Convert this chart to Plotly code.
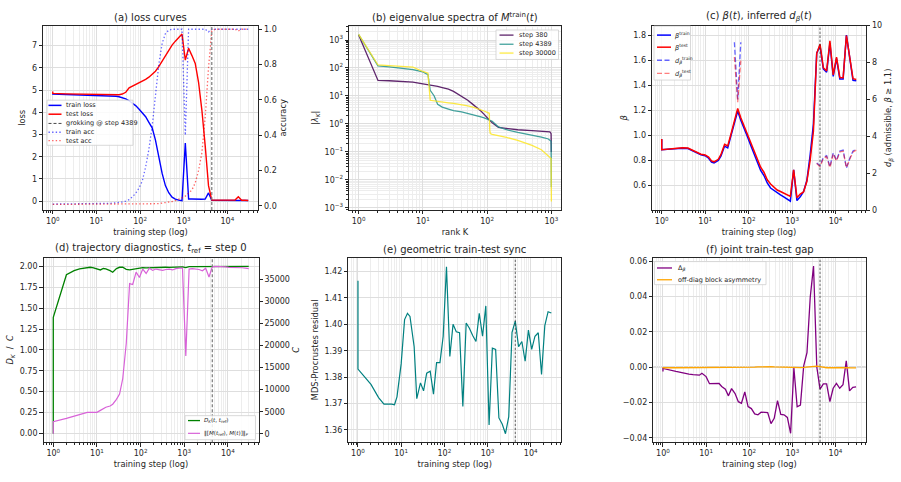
import plotly.graph_objects as go

# ---------------------------------------------------------------- data
# training steps (first entry is step 0, drawn at 1 on the log axis)
STEPS = [1, 1, 2, 3, 4, 5, 6, 7, 8, 10,
         12, 14, 16, 20, 23, 28, 33, 39, 47, 56,
         66, 79, 94, 112, 134, 159, 189, 225, 268, 320,
         380, 453, 540, 643, 766, 912, 1086, 1293, 1540, 1834,
         2185, 2602, 3099, 3691, 4389, 5235, 6235, 7426, 8844, 10533,
         12545, 14941, 17795, 21193, 25241, 30000]
GROK_STEP = 4389

TRAIN_LOSS = [4.83, 4.82, 4.80, 4.79, 4.79, 4.78, 4.78, 4.78, 4.77, 4.77,
              4.76, 4.76, 4.75, 4.74, 4.73, 4.72, 4.70, 4.66, 4.60, 4.52,
              4.42, 4.30, 4.15, 4.00, 3.80, 3.55, 3.30, 2.75, 2.00, 1.25,
              0.70, 0.38, 0.18, 0.09, 0.05, 0.02, 2.62, 0.10, 0.10, 0.09,
              0.09, 0.09, 0.10, 0.37, 0.04, 0.04, 0.04, 0.04, 0.03, 0.03,
              0.03, 0.03, 0.03, 0.03, 0.03, 0.03]
TEST_LOSS = [4.93, 4.85, 4.83, 4.82, 4.81, 4.81, 4.80, 4.80, 4.80, 4.80,
             4.79, 4.79, 4.79, 4.78, 4.78, 4.78, 4.79, 4.82, 4.90, 5.10,
             5.17, 5.22, 5.30, 5.38, 5.48, 5.58, 5.70, 5.85, 6.05, 6.30,
             6.55, 6.80, 7.02, 7.20, 7.35, 7.52, 6.35, 6.88, 6.55, 6.20,
             5.35, 4.10, 2.50, 0.70, 0.05, 0.05, 0.05, 0.05, 0.04, 0.05,
             0.04, 0.05, 0.20, 0.04, 0.04, 0.03]
TRAIN_ACC = [0.010, 0.010, 0.010, 0.010, 0.010, 0.010, 0.010, 0.010, 0.011, 0.011,
             0.012, 0.012, 0.013, 0.014, 0.015, 0.017, 0.019, 0.022, 0.027, 0.035,
             0.050, 0.070, 0.100, 0.140, 0.220, 0.320, 0.450, 0.620, 0.800, 0.920,
             0.975, 0.995, 1.000, 1.000, 1.000, 1.000, 0.400, 1.000, 1.000, 1.000,
             1.000, 1.000, 1.000, 0.985, 1.000, 1.000, 1.000, 1.000, 1.000, 1.000,
             1.000, 1.000, 1.000, 1.000, 1.000, 1.000]
TEST_ACC = [0.008, 0.008, 0.008, 0.008, 0.008, 0.008, 0.008, 0.008, 0.008, 0.008,
            0.008, 0.008, 0.008, 0.008, 0.008, 0.008, 0.008, 0.008, 0.008, 0.008,
            0.008, 0.008, 0.009, 0.009, 0.010, 0.010, 0.011, 0.012, 0.013, 0.015,
            0.017, 0.020, 0.024, 0.030, 0.036, 0.045, 0.055, 0.070, 0.090, 0.130,
            0.200, 0.300, 0.500, 0.780, 0.990, 1.000, 1.000, 1.000, 1.000, 1.000,
            1.000, 1.000, 0.990, 1.000, 1.000, 1.000]

# eigenvalue spectra
RANKS = [1, 2, 3, 5, 7, 10, 12, 13, 14, 15,
         17, 20, 25, 30, 40, 50, 60, 70, 80, 90,
         100, 105, 108, 110, 112, 120, 150, 200, 300, 500,
         700, 900, 950, 990, 1000]
SPECTRA_LABELS = ["step 380", "step 4389", "step 30000"]
EIG_STEP_380 = [1500, 36, 35, 33, 31, 27, 25.5, 25, 24, 23.5,
                22, 20, 17.5, 14.5, 10, 7, 5, 3.8, 2.9, 2.2,
                1.6, 1.45, 1.38, 1.33, 1.28, 1.1, 0.75, 0.68, 0.62, 0.58,
                0.56, 0.54, 0.52, 0.45, 0.1]
EIG_STEP_4389 = [1580, 120, 110, 96, 88, 72, 58, 16, 12, 10,
                 5.0, 4.0, 3.4, 3.0, 2.7, 2.4, 2.15, 1.95, 1.8, 1.65,
                 1.5, 1.45, 1.42, 1.4, 1.37, 1.25, 0.78, 0.62, 0.5, 0.4,
                 0.34, 0.29, 0.27, 0.24, 0.0055]
EIG_STEP_30000 = [1600, 128, 122, 116, 108, 75, 65, 7.0, 6.8, 6.6,
                  6.4, 6.1, 5.7, 5.4, 4.9, 4.4, 4.0, 3.6, 3.2, 2.9,
                  2.6, 2.5, 2.4, 0.6, 0.45, 0.42, 0.38, 0.33, 0.26, 0.17,
                  0.12, 0.075, 0.066, 0.058, 0.0017]

# beta(t) and inferred d_beta(t)
BETA_TRAIN = [0.970, 0.885, 0.893, 0.898, 0.895, 0.880, 0.866, 0.852, 0.846, 0.838,
              0.818, 0.787, 0.780, 0.800, 0.835, 0.915, 0.900, 0.995, 1.110, 1.195,
              1.120, 1.060, 0.990, 0.920, 0.850, 0.780, 0.720, 0.680, 0.620, 0.580,
              0.560, 0.545, 0.525, 0.510, 0.495, 0.475, 0.725, 0.480, 0.510, 0.550,
              0.640, 0.840, 1.090, 1.655, 1.715, 1.530, 1.505, 1.735, 1.470, 1.615,
              1.450, 1.450, 1.800, 1.600, 1.440, 1.435]
BETA_TEST = [0.972, 0.886, 0.896, 0.902, 0.899, 0.884, 0.871, 0.857, 0.850, 0.843,
             0.827, 0.796, 0.789, 0.809, 0.846, 0.928, 0.916, 1.007, 1.125, 1.215,
             1.141, 1.074, 1.012, 0.944, 0.877, 0.807, 0.746, 0.706, 0.646, 0.612,
             0.589, 0.564, 0.552, 0.537, 0.524, 0.513, 0.726, 0.503, 0.532, 0.549,
             0.632, 0.800, 1.033, 1.655, 1.728, 1.540, 1.515, 1.755, 1.482, 1.624,
             1.462, 1.460, 1.797, 1.614, 1.452, 1.446]
N = None
D_BETA_TRAIN = [N, N, N, N, N, N, N, N, N, N,
                N, N, N, N, N, N, N, N, 9.1, 6.0,
                9.1, N, N, N, N, N, N, N, N, N,
                N, N, N, N, N, N, N, N, N, N,
                N, N, N, 2.55, 2.40, 2.85, 2.95, 2.35, 3.10, 2.70,
                3.20, 3.25, 2.28, 2.80, 3.20, 3.30]
D_BETA_TEST = [N, N, N, N, N, N, N, N, N, N,
               N, N, N, N, N, N, N, N, 8.3, 5.85,
               8.1, N, N, N, N, N, N, N, N, N,
               N, N, N, N, N, N, N, N, N, N,
               N, N, N, 2.52, 2.35, 2.80, 2.90, 2.30, 3.05, 2.66,
               3.15, 3.20, 2.29, 2.75, 3.15, 3.25]

# trajectory diagnostics
D_K = [0.000, 1.390, 1.900, 1.950, 1.970, 1.980, 1.988, 1.990, 1.985, 1.965,
       1.958, 1.975, 1.970, 1.950, 1.930, 1.975, 1.990, 1.990, 1.965, 1.960,
       1.968, 1.975, 1.980, 1.985, 1.983, 1.985, 1.988, 1.990, 1.985, 1.988,
       1.990, 1.988, 1.990, 1.993, 1.990, 1.995, 1.985, 1.997, 1.998, 1.998,
       1.998, 1.999, 1.999, 1.999, 2.000, 2.000, 2.000, 2.000, 2.000, 2.000,
       2.000, 2.000, 2.000, 2.000, 2.000, 2.000]
COMMUTATOR = [0, 2750, 3500, 4000, 4400, 4750, 4830, 4840, 4840, 4850,
              5300, 5700, 6000, 6300, 6700, 7800, 9000, 12500, 20500, 34000,
              33800, 36600, 35400, 37300, 36300, 37500, 37000, 37300, 37100, 37000,
              37200, 37300, 37100, 37400, 37500, 37500, 17600, 37300, 37400, 37300,
              37200, 36900, 37500, 35500, 37800, 37900, 37900, 37800, 37800, 37700,
              37700, 37700, 37600, 37600, 37500, 37400]

# geometric train-test sync
MDS_RESIDUAL = [1.4165, 1.3830, 1.3772, 1.3722, 1.3697, 1.3698, 1.3697, 1.3695, 1.3725, 1.3850,
                1.4018, 1.4042, 1.4030, 1.3915, 1.3718, 1.3778, 1.3748, 1.3815, 1.3822, 1.3735,
                1.3855, 1.3855, 1.3955, 1.4218, 1.3878, 1.4000, 1.3972, 1.3968, 1.3688, 1.4005,
                1.3985, 1.3958, 1.3935, 1.4042, 1.3955, 1.4070, 1.3618, 1.3910, 1.3905, 1.3645,
                1.3622, 1.3585, 1.3650, 1.3970, 1.4012, 1.3915, 1.3935, 1.3860, 1.3978, 1.3905,
                1.3955, 1.3968, 1.3810, 1.3995, 1.4048, 1.4043]

# joint train-test gap
DELTA_BETA = [-0.0025, -0.0008, -0.0025, -0.0035, -0.0040, -0.0043, -0.0045, -0.0046, -0.0035, -0.0054,
              -0.0094, -0.0093, -0.0093, -0.0093, -0.0110, -0.0125, -0.0163, -0.0122, -0.0150, -0.0196,
              -0.0205, -0.0141, -0.0224, -0.0235, -0.0265, -0.0270, -0.0255, -0.0255, -0.0258, -0.0320,
              -0.0290, -0.0190, -0.0268, -0.0270, -0.0285, -0.0375, -0.0005, -0.0225, -0.0215, 0.0007,
              0.0081, 0.0396, 0.0572, 0.0000, -0.0125, -0.0095, -0.0095, -0.0195, -0.0120, -0.0092,
              -0.0120, -0.0100, 0.0035, -0.0135, -0.0115, -0.0112]
OFFDIAG_ASYM = [-0.0005, -0.0004, -0.0004, -0.0004, -0.0003, -0.0003, -0.0003, -0.0003, -0.0003, -0.0003,
                -0.0002, -0.0002, -0.0002, -0.0002, -0.0002, -0.0001, -0.0001, -0.0001, -0.0001, -0.0002,
                -0.0003, -0.0003, -0.0002, -0.0001, 0.0000, 0.0001, 0.0002, 0.0003, 0.0003, 0.0002,
                0.0001, 0.0000, -0.0001, -0.0002, -0.0003, -0.0004, -0.0004, -0.0004, -0.0003, -0.0002,
                0.0000, 0.0002, 0.0004, 0.0005, 0.0002, -0.0002, -0.0004, -0.0004, -0.0003, -0.0003,
                -0.0003, -0.0004, -0.0003, -0.0004, -0.0005, -0.0005]

# tick labels
TIME_TICKS = [1, 10, 100, 1000, 10000]
TIME_TICKTEXT = ["10<sup>0</sup>", "10<sup>1</sup>", "10<sup>2</sup>", "10<sup>3</sup>", "10<sup>4</sup>"]
RANK_TICKS = [1, 10, 100, 1000]
RANK_TICKTEXT = ["10<sup>0</sup>", "10<sup>1</sup>", "10<sup>2</sup>", "10<sup>3</sup>"]
EIG_TICKS = [1e-3, 1e-2, 1e-1, 1, 10, 100, 1000]
EIG_TICKTEXT = ["10<sup>\u22123</sup>", "10<sup>\u22122</sup>", "10<sup>\u22121</sup>",
                "10<sup>0</sup>", "10<sup>1</sup>", "10<sup>2</sup>", "10<sup>3</sup>"]

# ---------------------------------------------------------------- style / layout helpers
W, H = 901, 482
FONT = "DejaVu Sans"
INK = "#262626"
TICK_SIZE = 8
LABEL_SIZE = 8.3
TITLE_SIZE = 10
LEG_SIZE = 6.5


def fx(p):
    return p / W


def fy(p):
    return 1 - p / H


BOX = {  # left, right, top, bottom in pixels
    "a": (43, 258, 22, 210),
    "b": (349, 561, 22, 210),
    "c": (652, 866, 22, 210),
    "d": (43.5, 258.5, 258.5, 446.5),
    "e": (348.3, 561, 258.5, 446.5),
    "f": (653.3, 865.7, 258.5, 446.5),
}


def xdom(k):
    l, r, t, b = BOX[k]
    return [fx(l), fx(r)]


def ydom(k):
    l, r, t, b = BOX[k]
    return [fy(b), fy(t)]


MINOR_LOG = [m * 10.0 ** e for e in range(-4, 5) for m in range(2, 10)]


def title_of(text, standoff=None):
    d = dict(text=text, font=dict(family=FONT, size=LABEL_SIZE, color=INK))
    if standoff is not None:
        d["standoff"] = standoff
    return d


def base_axis(**kw):
    d = dict(showline=True, linecolor=INK, linewidth=0.8, mirror=True,
             ticks="outside", ticklen=3.5, tickwidth=0.8, tickcolor=INK,
             tickfont=dict(family=FONT, size=TICK_SIZE, color=INK),
             showgrid=True, gridcolor="#dedede", gridwidth=0.7, zeroline=False)
    d.update(kw)
    return d


def log_minor(grid=True):
    return dict(tickmode="array", tickvals=MINOR_LOG, ticks="outside", ticklen=2,
                tickwidth=0.6, tickcolor=INK, showgrid=grid, gridcolor="#ededed", gridwidth=0.6)


def time_xaxis(k, anchor):
    return base_axis(domain=xdom(k), anchor=anchor, type="log", range=[-0.224, 4.701],
                     tickmode="array", tickvals=TIME_TICKS, ticktext=TIME_TICKTEXT,
                     minor=log_minor(), title=title_of("training step (log)", 4))


def right_axis(k, over, anchor, rng, tickvals, fmt, label):
    return base_axis(domain=ydom(k), overlaying=over, anchor=anchor, side="right",
                     range=rng, tickmode="array", tickvals=tickvals, tickformat=fmt,
                     showgrid=False, mirror=False, title=title_of(label, 4))


# ---------------------------------------------------------------- traces
traces = []


def line(x, y, xa, ya, color, width=1.3, dash=None, opacity=1.0, name=None):
    ln = dict(color=color, width=width)
    if dash:
        ln["dash"] = dash
    traces.append(go.Scatter(x=x, y=y, xaxis=xa, yaxis=ya, mode="lines", line=ln,
                             opacity=opacity, name=name, showlegend=False,
                             connectgaps=False))


DOT = "1.4px,2.2px"
DASH_D = "5px,2.5px"

# (a)
line(STEPS, TRAIN_LOSS, "x", "y", "#0000ff", 1.4, name="train loss")
line(STEPS, TEST_LOSS, "x", "y", "#ff0000", 1.4, name="test loss")
line(STEPS, TRAIN_ACC, "x", "y7", "#0000ff", 1.3, DOT, 0.6, "train acc")
line(STEPS, TEST_ACC, "x", "y7", "#ff0000", 1.3, DOT, 0.6, "test acc")

# (b)
SPEC_COLORS = ["#440154", "#21918c", "#fde725"]
for vals, col, nm in zip([EIG_STEP_380, EIG_STEP_4389, EIG_STEP_30000], SPEC_COLORS, SPECTRA_LABELS):
    line(RANKS, vals, "x2", "y2", col, 1.3, None, 0.85, nm)

# (c)
line(STEPS, BETA_TRAIN, "x3", "y3", "#0000ff", 1.5, name="beta train")
line(STEPS, BETA_TEST, "x3", "y3", "#ff0000", 1.5, name="beta test")
line(STEPS, D_BETA_TRAIN, "x3", "y8", "#0000ff", 1.3, DASH_D, 0.6, "d train")
line(STEPS, D_BETA_TEST, "x3", "y8", "#ff0000", 1.3, DASH_D, 0.5, "d test")

# (d)
line(STEPS, D_K, "x4", "y4", "#008000", 1.3, name="D_K")
line(STEPS, COMMUTATOR, "x4", "y9", "#d862d8", 1.2, name="commutator")

# (e)
line(STEPS, MDS_RESIDUAL, "x5", "y5", "#008080", 1.2, name="residual")

# (f)
line(STEPS, DELTA_BETA, "x6", "y6", "#800080", 1.3, name="delta beta")
line(STEPS, OFFDIAG_ASYM, "x6", "y6", "#ffa500", 1.3, name="off-diag")

# ---------------------------------------------------------------- layout
layout = dict(
    width=W, height=H, margin=dict(l=0, r=0, t=0, b=0),
    paper_bgcolor="white", plot_bgcolor="white", showlegend=False,
    font=dict(family=FONT, color=INK),
    # (a)
    xaxis=time_xaxis("a", "y"),
    yaxis=base_axis(domain=ydom("a"), anchor="x", range=[-0.40, 7.90], tickmode="array",
                    tickvals=[0, 1, 2, 3, 4, 5, 6, 7], title=title_of("loss", 4)),
    yaxis7=right_axis("a", "y", "x", [-0.024, 1.0206], [0, 0.2, 0.4, 0.6, 0.8, 1.0], ".1f", "accuracy"),
    # (b)
    xaxis2=base_axis(domain=xdom("b"), anchor="y2", type="log", range=[-0.15, 3.15],
                     tickmode="array", tickvals=RANK_TICKS, ticktext=RANK_TICKTEXT,
                     minor=log_minor(), title=title_of("rank K", 4)),
    yaxis2=base_axis(domain=ydom("b"), anchor="x2", type="log", range=[-3.08, 3.516],
                     tickmode="array", tickvals=EIG_TICKS, ticktext=EIG_TICKTEXT,
                     minor=log_minor(), title=title_of("|<i>\u03bb</i><sub><i>K</i></sub>|", 4)),
    # (c)
    xaxis3=time_xaxis("c", "y3"),
    yaxis3=base_axis(domain=ydom("c"), anchor="x3", range=[0.404, 1.876], tickmode="array",
                     tickvals=[0.6, 0.8, 1.0, 1.2, 1.4, 1.6, 1.8], tickformat=".1f",
                     title=title_of("<i>\u03b2</i>", 4)),
    yaxis8=right_axis("c", "y3", "x3", [0, 10], [0, 2, 4, 6, 8, 10], "d",
                      "<i>d</i><sub><i>\u03b2</i></sub> (admissible, <i>\u03b2</i> \u2265 1.1)"),
    # (d)
    xaxis4=time_xaxis("d", "y4"),
    yaxis4=base_axis(domain=ydom("d"), anchor="x4", range=[-0.105, 2.105], tickmode="array",
                     tickvals=[0, 0.25, 0.5, 0.75, 1.0, 1.25, 1.5, 1.75, 2.0], tickformat=".2f",
                     title=title_of("<i>D</i><sub><i>K</i></sub>  /  <i>C</i>", 4)),
    yaxis9=right_axis("d", "y4", "x4", [-1900, 39880],
                      [0, 5000, 10000, 15000, 20000, 25000, 30000, 35000], "d", "<i>C</i>"),
    # (e)
    xaxis5=time_xaxis("e", "y5"),
    yaxis5=base_axis(domain=ydom("e"), anchor="x5", range=[1.3553, 1.4253], tickmode="array",
                     tickvals=[1.36, 1.37, 1.38, 1.39, 1.40, 1.41, 1.42], tickformat=".2f",
                     title=title_of("MDS-Procrustes residual", 4)),
    # (f)
    xaxis6=time_xaxis("f", "y6"),
    yaxis6=base_axis(domain=ydom("f"), anchor="x6", range=[-0.0425, 0.0619], tickmode="array",
                     tickvals=[-0.04, -0.02, 0, 0.02, 0.04, 0.06], tickformat=".2f"),
)

shapes = []
annotations = []

# grokking markers
for xa, ya, col, w, dsh in [("x", "y", "#7a7a7a", 1.2, "3px,2px"),
                            ("x3", "y3", "#333333", 0.8, "2.5px,1.5px"),
                            ("x4", "y4", "#7a7a7a", 1.2, "3px,2px"),
                            ("x5", "y5", "#333333", 0.8, "2.5px,1.5px"),
                            ("x6", "y6", "#333333", 0.8, "2.5px,1.5px")]:
    shapes.append(dict(type="line", xref=xa, yref=ya + " domain", x0=GROK_STEP, x1=GROK_STEP,
                       y0=0, y1=1, line=dict(color=col, width=w, dash=dsh), layer="above"))

# zero line in (f)
shapes.append(dict(type="line", xref="x6 domain", yref="y6", x0=0, x1=1, y0=0, y1=0,
                   line=dict(color="#a0a0a0", width=0.9), layer="below"))

# subplot titles
TITLES = {
    "a": "(a) loss curves",
    "b": "(b) eigenvalue spectra of <i>M</i><sup>train</sup>(<i>t</i>)",
    "c": "(c) <i>\u03b2</i>(<i>t</i>), inferred <i>d</i><sub><i>\u03b2</i></sub>(<i>t</i>)",
    "d": "(d) trajectory diagnostics, <i>t</i><sub>ref</sub> = step 0",
    "e": "(e) geometric train-test sync",
    "f": "(f) joint train-test gap",
}
for k, txt in TITLES.items():
    l, r, t, b = BOX[k]
    annotations.append(dict(text=txt, xref="paper", yref="paper", x=fx((l + r) / 2), y=fy(t),
                            xanchor="center", yanchor="bottom", yshift=1, showarrow=False,
                            font=dict(family=FONT, size=TITLE_SIZE, color=INK)))


def legend(box, items, lx0, lx1, tx, size=LEG_SIZE):
    x0, y0, x1, y1 = box
    shapes.append(dict(type="rect", xref="paper", yref="paper", x0=fx(x0), x1=fx(x1),
                       y0=fy(y1), y1=fy(y0), line=dict(color="#cfcfcf", width=0.8),
                       fillcolor="rgba(255,255,255,0.85)", layer="above"))
    for yc, col, w, dsh, op, txt in items:
        ln = dict(color=col, width=w)
        if dsh:
            ln["dash"] = dsh
        shapes.append(dict(type="line", xref="paper", yref="paper", x0=fx(lx0), x1=fx(lx1),
                           y0=fy(yc), y1=fy(yc), line=ln, opacity=op, layer="above"))
        annotations.append(dict(text=txt, xref="paper", yref="paper", x=fx(tx), y=fy(yc),
                                xanchor="left", yanchor="middle", showarrow=False, borderpad=0,
                                font=dict(family=FONT, size=size, color=INK)))


legend((47, 98, 133, 144), [
    (103.3, "#0000ff", 1.5, None, 1.0, "train loss"),
    (112.3, "#ff0000", 1.5, None, 1.0, "test loss"),
    (121.7, "#333333", 0.9, "3px,2px", 1.0, "grokking @ step %d" % GROK_STEP),
    (130.7, "#0000ff", 1.3, DOT, 0.6, "train acc"),
    (139.3, "#ff0000", 1.3, DOT, 0.6, "test acc"),
], 48.5, 61.5, 65)

legend((496, 26.5, 558.5, 56.5), [
    (31.7, SPEC_COLORS[0], 1.3, None, 0.85, SPECTRA_LABELS[0]),
    (41.0, SPEC_COLORS[1], 1.3, None, 0.85, SPECTRA_LABELS[1]),
    (50.0, SPEC_COLORS[2], 1.3, None, 0.85, SPECTRA_LABELS[2]),
], 499.5, 513.5, 518)

legend((654, 22.5, 690.5, 77.5), [
    (31.7, "#0000ff", 1.5, None, 1.0, "<i>\u03b2</i><sup>train</sup>"),
    (44.0, "#ff0000", 1.5, None, 1.0, "<i>\u03b2</i><sup>test</sup>"),
    (57.3, "#0000ff", 1.3, DASH_D, 0.6, "<i>d</i><sub><i>\u03b2</i></sub><sup>train</sup>"),
    (70.7, "#ff0000", 1.3, DASH_D, 0.5, "<i>d</i><sub><i>\u03b2</i></sub><sup>test</sup>"),
], 657, 671, 674)

legend((185, 419.5, 255.5, 444), [
    (424.5, "#008000", 1.3, None, 1.0, "<i>D</i><sub><i>K</i></sub>(<i>t</i>, <i>t</i><sub>ref</sub>)"),
    (437.5, "#d862d8", 1.2, None, 1.0, "\u2016[<i>M</i>(<i>t</i><sub>ref</sub>), <i>M</i>(<i>t</i>)]\u2016<sub><i>F</i></sub>"),
], 188, 200, 203, 5.6)

legend((654.5, 262.5, 766, 286), [
    (269.0, "#800080", 1.3, None, 1.0, "\u0394<sub><i>\u03b2</i></sub>"),
    (281.0, "#ffa500", 1.3, None, 1.0, "off-diag block asymmetry"),
], 657, 672, 677)

layout["shapes"] = shapes
layout["annotations"] = annotations

fig = go.Figure(data=traces, layout=layout)
fig.write_html("out.html")
